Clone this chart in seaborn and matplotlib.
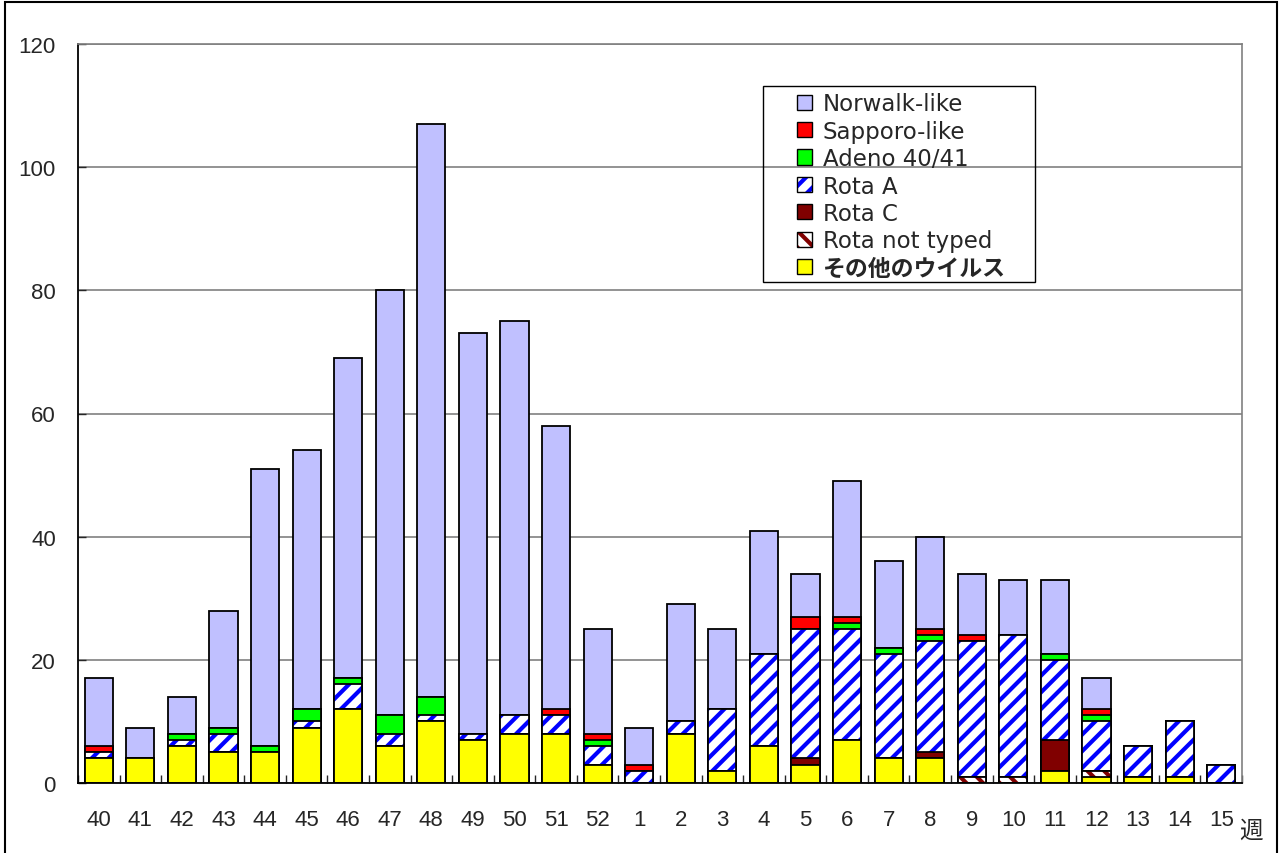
import numpy as np
import pandas as pd
import matplotlib.pyplot as plt
import seaborn as sns
from matplotlib.patches import Patch, Rectangle
from matplotlib.legend_handler import HandlerTuple

# 週ごとの検出数（下から: その他, Rota not typed, Rota C, Rota A, Adeno, Sapporo, Norwalk）
weeks = ["40", "41", "42", "43", "44", "45", "46", "47", "48", "49", "50", "51", "52",
         "1", "2", "3", "4", "5", "6", "7", "8", "9", "10", "11", "12", "13", "14", "15"]
other = [4, 4, 6, 5, 5, 9, 12, 6, 10, 7, 8, 8, 3, 0, 8, 2, 6, 3, 7, 4, 4, 0, 0, 2, 1, 1, 1, 0]
rota_nt = [0, 0, 0, 0, 0, 0, 0, 0, 0, 0, 0, 0, 0, 0, 0, 0, 0, 0, 0, 0, 0, 1, 1, 0, 1, 0, 0, 0]
rota_c = [0, 0, 0, 0, 0, 0, 0, 0, 0, 0, 0, 0, 0, 0, 0, 0, 0, 1, 0, 0, 1, 0, 0, 5, 0, 0, 0, 0]
rota_a = [1, 0, 1, 3, 0, 1, 4, 2, 1, 1, 3, 3, 3, 2, 2, 10, 15, 21, 18, 17, 18, 22, 23, 13, 8, 5, 9, 3]
adeno = [0, 0, 1, 1, 1, 2, 1, 3, 3, 0, 0, 0, 1, 0, 0, 0, 0, 0, 1, 1, 1, 0, 0, 1, 1, 0, 0, 0]
sapporo = [1, 0, 0, 0, 0, 0, 0, 0, 0, 0, 0, 1, 1, 1, 0, 0, 0, 2, 1, 0, 1, 1, 0, 0, 1, 0, 0, 0]
norwalk = [11, 5, 6, 19, 45, 42, 52, 69, 93, 65, 64, 46, 17, 6, 19, 13, 20, 7, 22, 14, 15, 10, 9, 12, 5, 0, 0, 0]

labels = ["Norwalk-like", "Sapporo-like", "Adeno 40/41", "Rota A", "Rota C",
          "Rota not typed", "その他のウイルス"]

# 累積値（上から重ねて描く）
df = pd.DataFrame({"week": weeks})
df["other"] = other
df["rota_nt"] = df["other"] + rota_nt
df["rota_c"] = df["rota_nt"] + rota_c
df["rota_a"] = df["rota_c"] + rota_a
df["adeno"] = df["rota_a"] + adeno
df["sapporo"] = df["adeno"] + sapporo
df["norwalk"] = df["sapporo"] + norwalk

sns.set_style("white")
plt.rcParams["font.family"] = ["Liberation Sans", "DejaVu Sans"]
plt.rcParams["hatch.linewidth"] = 3.0

fig = plt.figure(figsize=(12.81, 8.54), dpi=100)
ax = fig.add_axes([78 / 1281, 1 - 784 / 854, (1242 - 78) / 1281, (784 - 45) / 854])

W = 0.68
layers = [
    ("norwalk", "#C0C0FF", None, None),
    ("sapporo", "#FF0000", None, None),
    ("adeno", "#00FF00", None, None),
    ("rota_a", "white", "//", "#0000FF"),
    ("rota_c", "#800000", None, None),
    ("rota_nt", "white", "\\\\", "#800000"),
    ("other", "#FFFF00", None, None),
]

for col, fc, hatch, hcol in layers:
    sns.barplot(data=df, x="week", y=col, order=weeks, color=fc, saturation=1,
                width=W, errorbar=None, ax=ax)
    bars = ax.containers[-1]
    for b in bars:
        if hatch:
            b.set_hatch(hatch)
            b.set_edgecolor(hcol)
            b.set_linewidth(0)
        else:
            b.set_edgecolor("black")
            b.set_linewidth(1.3)
    if hatch:
        # 枠線だけを上に重ねる
        sns.barplot(data=df, x="week", y=col, order=weeks, color="black", fill=False,
                    linewidth=1.3, width=W, errorbar=None, ax=ax)

ax.set_xlim(-0.5, len(weeks) - 0.5)
ax.set_ylim(0, 120)
ax.set_yticks(np.arange(0, 121, 20))
ax.yaxis.grid(True, color="#808080", linewidth=1.2)
ax.set_axisbelow(True)
ax.set_xlabel("")
ax.set_ylabel("")

for s in ["left", "bottom"]:
    ax.spines[s].set_color("black")
    ax.spines[s].set_linewidth(1.3)
for s in ["top", "right"]:
    ax.spines[s].set_color("#808080")
    ax.spines[s].set_linewidth(1.2)

ax.tick_params(axis="y", direction="in", length=6, width=1, pad=16, labelsize=16, left=True)
ax.tick_params(axis="x", which="major", length=0, pad=19, labelsize=16)
ax.set_xticks(np.arange(-0.5, len(weeks), 1), minor=True)
ax.tick_params(axis="x", which="minor", direction="in", length=6, width=1, bottom=True)

fig.text(1251 / 1281, 1 - 831 / 854, "週", ha="center", va="center", fontsize=17,
         family=["Noto Sans CJK JP", "DejaVu Sans"])

# 凡例
handles = [
    Patch(facecolor="#C0C0FF", edgecolor="black", linewidth=1),
    Patch(facecolor="#FF0000", edgecolor="black", linewidth=1),
    Patch(facecolor="#00FF00", edgecolor="black", linewidth=1),
    (Patch(facecolor="white", edgecolor="#0000FF", hatch="//", linewidth=0),
     Patch(facecolor="none", edgecolor="black", linewidth=1)),
    Patch(facecolor="#800000", edgecolor="black", linewidth=1),
    (Patch(facecolor="white", edgecolor="#800000", hatch="\\\\", linewidth=0),
     Patch(facecolor="none", edgecolor="black", linewidth=1)),
    Patch(facecolor="#FFFF00", edgecolor="black", linewidth=1),
]
leg = fig.legend(handles, labels, loc="upper left",
                 bbox_to_anchor=(786 / 1281, 1 - 82 / 854), bbox_transform=fig.transFigure,
                 frameon=False, borderpad=0, labelspacing=0.19,
                 handlelength=0.65, handleheight=0.65, handletextpad=0.45,
                 handler_map={tuple: HandlerTuple(ndivide=1, pad=0)},
                 prop={"family": ["DejaVu Sans"], "size": 16.5})
jp = leg.get_texts()[-1]
jp.set_fontfamily(["Noto Sans CJK JP", "DejaVu Sans"])
jp.set_fontweight("bold")

fig.add_artist(Rectangle((763 / 1281, 1 - 283 / 854), (1035 - 763) / 1281, (283 - 87) / 854,
                         transform=fig.transFigure, fill=False, edgecolor="black", linewidth=1))
fig.add_artist(Rectangle((5 / 1281, -0.01), (1277 - 5) / 1281, 1.01 - 3 / 854,
                         transform=fig.transFigure, fill=False, edgecolor="black", linewidth=1.5))

fig.savefig("out.png", dpi=100)
